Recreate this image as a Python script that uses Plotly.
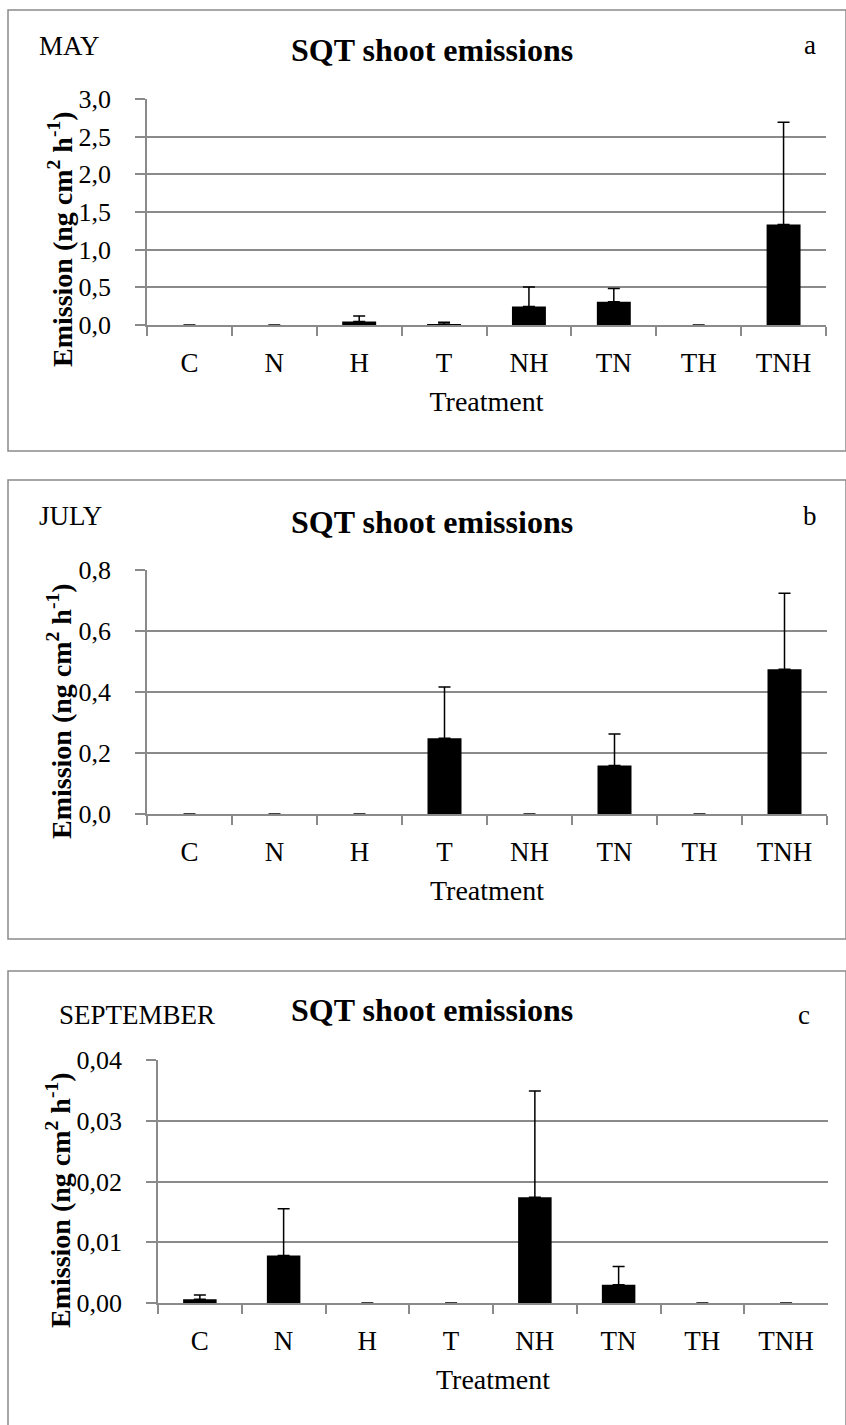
import plotly.graph_objects as go

categories = ["C", "N", "H", "T", "NH", "TN", "TH", "TNH"]

may_mean = [0.0, 0.0, 0.045, 0.013, 0.245, 0.31, 0.0, 1.335]
may_upper = [0.0, 0.0, 0.12, 0.035, 0.505, 0.485, 0.0, 2.69]

july_mean = [0.0, 0.0, 0.0, 0.248, 0.0, 0.159, 0.0, 0.475]
july_upper = [0.0, 0.0, 0.0, 0.416, 0.0, 0.262, 0.0, 0.724]

sept_mean = [0.0006, 0.0078, 0.0, 0.0, 0.0174, 0.003, 0.0, 0.0]
sept_upper = [0.0013, 0.0155, 0.0, 0.0, 0.0349, 0.006, 0.0, 0.0]

months = ["MAY", "JULY", "SEPTEMBER"]
letters = ["a", "b", "c"]
y_ranges = [[0, 3.0], [0, 0.8], [0, 0.04]]
y_dticks = [0.5, 0.2, 0.01]
y_formats = [".1f", ".1f", ".2f"]
y_title = "<b>Emission (ng cm<sup>2</sup> h<sup>-1</sup>)</b>"
x_title = "Treatment"

W, H = 846, 1425
FONT = "Liberation Serif"
GREY = "#8a8a8a"

def fx(px):
    return px / W

def fy(px):
    return 1 - px / H

# plot-area pixel boxes (left, right, top, bottom)
boxes = [(147, 826, 99, 325), (147, 827, 570, 814), (158, 828, 1060, 1303)]
frames = [(8, 846, 10, 451), (8, 846, 480, 939), (8, 846, 971, 1440)]
title_y = [50, 522, 1010]
month_pos = [(37, 46, 27), (37, 516, 27), (57, 1015, 27)]
letter_pos = [(810, 45), (810, 516), (804, 1015)]
ytitle_pos = [(60, 239), (60, 711), (58, 1200)]

fig = go.Figure()
series = [(may_mean, may_upper), (july_mean, july_upper), (sept_mean, sept_upper)]

shapes = []
annotations = []
for i, (mean, upper) in enumerate(series):
    ax = "" if i == 0 else str(i + 1)
    plus = [u - m for m, u in zip(mean, upper)]
    fig.add_trace(go.Bar(
        x=categories, y=mean,
        xaxis="x" + ax, yaxis="y" + ax,
        marker=dict(color="black", line=dict(width=0)),
        width=0.4,
        error_y=dict(type="data", symmetric=False, array=plus,
                     arrayminus=[0] * len(mean), color="black",
                     thickness=1.5, width=6),
        showlegend=False,
    ))
    l, r, t, b = boxes[i]
    fig.layout["xaxis" + ax] = dict(
        domain=[fx(l), fx(r)], anchor="y" + ax, automargin=False,
        showline=True, linecolor=GREY, linewidth=1.5,
        ticks="outside", tickson="boundaries", ticklen=9,
        tickcolor=GREY, tickwidth=1.5,
        tickfont=dict(family=FONT, size=27, color="black"),
        ticklabelstandoff=13,
        title=dict(text=x_title, font=dict(family=FONT, size=28, color="black"),
                   standoff=14),
        showgrid=False, fixedrange=True,
    )
    fig.layout["yaxis" + ax] = dict(
        domain=[fy(b), fy(t)], anchor="x" + ax, automargin=False,
        range=y_ranges[i], dtick=y_dticks[i], tickformat=y_formats[i],
        showline=True, linecolor=GREY, linewidth=1.5,
        showgrid=True, gridcolor=GREY, gridwidth=1.5,
        zeroline=False,
        ticks="outside", ticklen=10, tickcolor=GREY, tickwidth=1.5,
        tickfont=dict(family=FONT, size=26, color="black"),
        ticklabelstandoff=19,
        fixedrange=True,
    )
    fl, fr, ft, fb = frames[i]
    shapes.append(dict(type="rect", xref="paper", yref="paper",
                       x0=fx(fl), x1=fx(fr), y0=fy(fb), y1=fy(ft),
                       line=dict(color=GREY, width=1.5), fillcolor="rgba(0,0,0,0)",
                       layer="below"))
    tx, ty = ytitle_pos[i]
    annotations.append(dict(text=y_title, xref="paper", yref="paper",
                            x=fx(tx), y=fy(ty), xanchor="center", yanchor="middle",
                            textangle=-90, showarrow=False,
                            font=dict(family=FONT, size=28, color="black")))
    annotations.append(dict(text="<b>SQT shoot emissions</b>", xref="paper", yref="paper",
                            x=fx(432), y=fy(title_y[i]), xanchor="center", yanchor="middle",
                            showarrow=False, font=dict(family=FONT, size=32, color="black")))
    mx, my, ms = month_pos[i]
    annotations.append(dict(text=months[i], xref="paper", yref="paper",
                            x=fx(mx), y=fy(my), xanchor="left", yanchor="middle",
                            showarrow=False, font=dict(family=FONT, size=ms, color="black")))
    lx, ly = letter_pos[i]
    annotations.append(dict(text=letters[i], xref="paper", yref="paper",
                            x=fx(lx), y=fy(ly), xanchor="center", yanchor="middle",
                            showarrow=False, font=dict(family=FONT, size=27, color="black")))

fig.update_layout(
    width=W, height=H,
    margin=dict(l=0, r=0, t=0, b=0, autoexpand=False),
    paper_bgcolor="white", plot_bgcolor="white",
    separators=", ",
    shapes=shapes, annotations=annotations,
    bargap=0.6,
)

fig.write_html(
    "out.html",
    config={"displayModeBar": False},
    post_script=(
        "document.documentElement.style.margin='0';"
        "document.documentElement.style.overflow='hidden';"
        "document.body.style.margin='0';document.body.style.padding='0';"
        "document.body.style.overflow='hidden';"
        "var gd=document.getElementById('{plot_id}');"
        "gd.style.position='fixed';gd.style.top='0px';gd.style.left='0px';"
    ),
)
